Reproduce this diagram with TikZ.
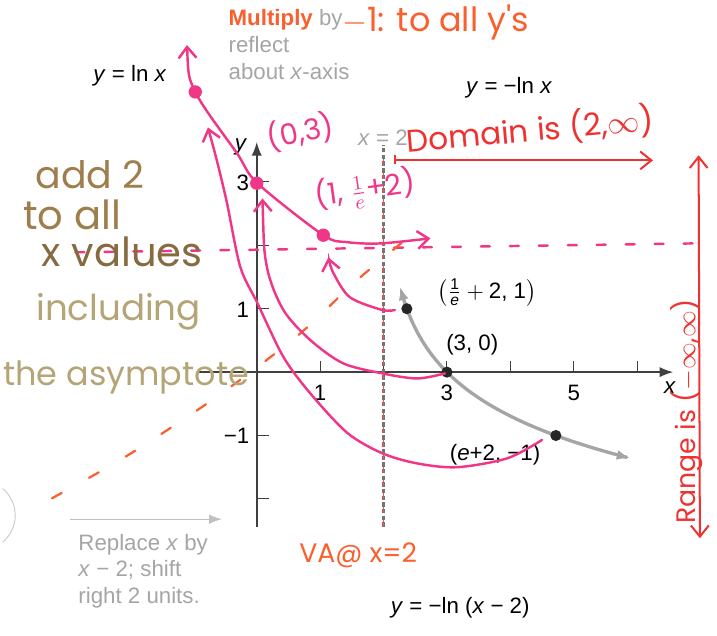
\documentclass[tikz,border=0pt]{standalone}
\usepackage{fontspec}
\usepackage{amsmath}
\setmainfont{Liberation Sans}
\newfontfamily\handfont{Poppins}
\usetikzlibrary{arrows.meta}
\definecolor{penPink}{RGB}{240,55,135}
\definecolor{penRed}{RGB}{238,50,50}
\definecolor{penOrange}{RGB}{250,95,45}
\definecolor{penBrown}{RGB}{158,126,76}
\definecolor{penKhaki}{RGB}{180,165,118}
\definecolor{printGray}{RGB}{165,165,165}
\tikzset{barb/.tip={Straight Barb[length=5pt,width=8pt]}}

\begin{document}
\begin{tikzpicture}[x=1cm,y=1cm,>=Latex,
  pinkpen/.style={penPink,line width=1.1pt,line cap=round},
  dot/.style={circle,fill=#1,inner sep=0pt,minimum size=5pt},
  hand/.style={font=\handfont\fontsize{#1}{#1}\selectfont}]
  \useasboundingbox (-4.05,-4.15) rectangle (7.26,5.87);

  % printed figure
  \draw[->,black!75,line width=0.7pt] (-0.95,0) -- (6.57,0);
  \draw[->,black!75,line width=0.7pt] (0,-2.44) -- (0,3.63);
  \node (xlab) at (6.52,-0.24) {\textit{x}};
  \node (ylab) at (-0.25,3.55) {\textit{y}};
  \foreach \x in {1,...,6} {
    \draw[black!75] (\x,0) -- (\x,0.18);
  }
  \foreach \y in {-2,-1,1,2,3} {
    \draw[black!75] (0,\y) -- (0.2,\y);
  }
  \foreach \x in {1,3,5} {
    \node (xt\x) at (\x,-0.33) {\x};
  }
  \node (yt3) at (-0.22,2.98) {3};
  \node (yt1) at (-0.22,0.98) {1};
  \node (ytm1) at (-0.32,-1.0) {−1};
  \draw[printGray!70!black,line width=1.7pt,dash pattern=on 2pt off 1pt] (2,-2.44) -- (2,3.58);
  \draw[penRed!85,line width=0.5pt,dash pattern=on 3pt off 3pt] (2,-2.44) -- (2,3.45);
  \node[printGray] (asy) at (1.99,3.69) {\textit{x} = 2};
  \draw[printGray,line width=1.5pt,<->,>={Latex[length=6pt]}]
    plot[domain=2.26:5.89,samples=60,smooth] (\x,{-ln(\x-2)});
  \node[dot=black!85] (p1) at (2.368,1) {};
  \node[dot=black!85] (p2) at (3,0) {};
  \node[dot=black!85] (p3) at (4.718,-1) {};
  \node (l1) at (3.63,1.26) {$\left(\frac{\text{1}}{\textit{e}}+\text{2, 1}\right)$};
  \node (l2) at (3.40,0.43) {(3, 0)};
  \node (l3) at (3.76,-1.31) {(\textit{e}+2, −1)};
  \node (f1) at (-2.0,4.68) {\textit{y} = ln \textit{x}};
  \node (f2) at (3.98,4.48) {\textit{y} = −ln \textit{x}};
  \node (f3) at (3.21,-3.71) {\textit{y} = −ln (\textit{x} − 2)};
  \node[printGray,anchor=west,align=left,inner sep=0pt] (step1) at (-0.45,5.17)
    {\textcolor{penOrange}{\textbf{Multiply}} by\\reflect\\about \textit{x}-axis};
  \draw[->,printGray!70,line width=0.6pt] (-2.94,-2.32) -- (-0.55,-2.32);
  \node[printGray,anchor=west,align=left,inner sep=0pt] (step2) at (-2.82,-3.14)
    {Replace \textit{x} by\\\textit{x} − 2; shift\\right 2 units.};
  \draw[printGray!60] (-4.36,-2.26) ++(-50:0.55) arc[start angle=-50,end angle=50,radius=0.55];

  % pen notes
  \draw[pinkpen,dash pattern=on 4pt off 9pt] (-2.86,1.89) -- (6.88,2.03);
  \draw[penOrange,line width=1pt,line cap=round,dash pattern=on 5pt off 14pt]
    plot[smooth] coordinates {(-3.23,-1.99) (-2.08,-1.34) (-0.66,-0.41) (0.65,0.58) (1.58,1.45) (2.63,2.32)};
  \draw[pinkpen,barb-barb] plot[smooth] coordinates {(-1.10,5.16) (-0.97,4.42) (-0.31,3.45)
    (0.01,2.98) (1.05,2.16) (1.43,2.05) (1.95,2.03) (2.74,2.11)};
  \draw[pinkpen,barb-] plot[smooth] coordinates {(-0.77,3.86) (-0.62,3.30) (-0.47,2.67)
    (-0.26,1.66) (0.01,1.09) (0.42,0.24) (0.84,-0.33) (1.43,-0.96) (1.98,-1.28)
    (2.53,-1.44) (3.16,-1.50) (3.95,-1.36) (4.50,-1.07)};
  \draw[pinkpen,barb-] plot[smooth] coordinates {(0.09,2.74) (0.16,1.66) (0.42,0.98)
    (0.84,0.51) (1.36,0.14) (1.98,-0.02) (2.53,-0.10) (2.97,-0.02)};
  \draw[pinkpen,-barb] plot[smooth] coordinates {(2.18,0.98) (1.98,0.98) (1.47,1.18)
    (1.21,1.56) (1.13,1.81)};
  \node[dot=penPink,minimum size=6pt] (q1) at (-0.97,4.42) {};
  \node[dot=penPink,minimum size=6pt] (q2) at (0,2.98) {};
  \node[dot=penPink,minimum size=6pt] (q3) at (1.05,2.16) {};
  \node[penPink,hand=13,rotate=12] (n03) at (0.69,3.79) {(0,3)};
  \node[penPink,hand=13,rotate=8] (n1e) at (1.71,2.87) {(1, $\frac{1}{e}$+2)};
  \draw[penRed,line width=0.9pt,-barb] (2.18,3.34) -- (6.25,3.34);
  \draw[penRed,line width=0.9pt] (2.18,3.28) -- (2.18,3.42);
  \node[penRed,hand=14,rotate=5] (dom) at (4.31,3.82) {Domain is (2,$\infty$)};
  \draw[penRed,line width=0.9pt,barb-barb] (6.99,-2.62) -- (6.97,3.42);
  \node[penRed,hand=12,rotate=90] (ran) at (6.78,-0.62) {Range is ($-\infty$,$\infty$)};
  \node[penOrange,hand=12] (va) at (1.60,-2.89) {VA@ x=2};
  \node[penOrange,hand=15] (neg) at (2.82,5.52) {$-$1: to all y's};
  \node[penBrown,hand=17] (w1) at (-2.63,3.11) {add 2};
  \node[penBrown,hand=18] (w2) at (-2.91,2.48) {to all};
  \node[penBrown!85!black,hand=18] (w3) at (-2.12,1.89) {x values};
  \node[penKhaki,hand=16] (w4) at (-2.18,0.95) {including};
  \node[penKhaki,hand=15] (w5) at (-2.06,-0.08) {the asymptote};
\end{tikzpicture}
\end{document}
